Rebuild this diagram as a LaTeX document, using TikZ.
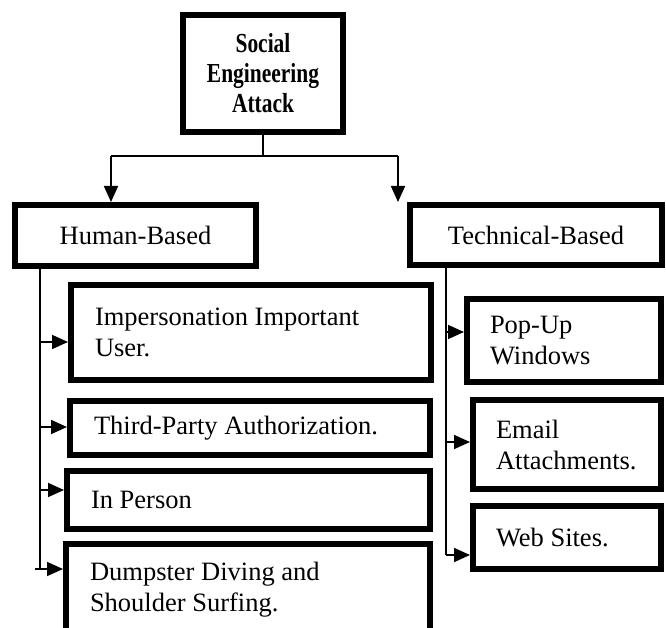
\documentclass[tikz,border=0pt]{standalone}
\usepackage{fontspec}
\setmainfont{Liberation Serif}
% condensed bold face for the root heading
\newfontfamily\headfont{Liberation Serif}[FakeStretch=0.78]
\usetikzlibrary{arrows.meta,calc}

\begin{document}
\begin{tikzpicture}[x=1pt,y=-1pt,
  box/.style={draw, line width=6pt, rectangle, inner xsep=24pt, inner ysep=0pt,
              align=flush left, font=\fontsize{26.5}{31}\selectfont},
  rbox/.style={box, inner xsep=23pt},
  cbox/.style={box, align=flush center},
  head/.style={cbox, font=\headfont\bfseries\fontsize{27.5}{30}\selectfont},
  link/.style={line width=1.7pt},
  arr/.style={link, -{Triangle[length=16pt 0,width=14pt 0]}}]
\useasboundingbox (0,0) rectangle (666,628);
\clip (0,0) rectangle (666,628);

% root and the two categories
\node[head, minimum width=148pt, minimum height=117pt] (root) at (263,73.5) {Social\\Engineering\\Attack};
\node[cbox, minimum width=241pt, minimum height=61pt] (hb) at (135.5,235.5) {Human-Based};
\node[cbox, minimum width=252pt, minimum height=60pt] (tb) at (536,235) {Technical-Based};

% human-based techniques
\node[box, text width=312pt, minimum height=95pt] (imp) at (251,332.5) {Impersonation Important\\User.};
\node[box, text width=312pt, minimum height=54pt] (tpa) at (250,428) {Third-Party Authorization.};
\node[box, text width=315pt, minimum height=58pt] (inp) at (248.5,500) {In Person};
\node[box, text width=316pt, minimum height=91pt, anchor=north] (dd) at (248,541) {Dumpster Diving and\\Shoulder Surfing.};

% technical-based techniques
\node[rbox, text width=148pt, minimum height=83pt] (pu) at (564,340.5) {Pop-Up\\Windows};
\node[rbox, text width=142pt, minimum height=89pt] (em) at (567,444.5) {Email\\Attachments.};
\node[rbox, text width=142pt, minimum height=63pt] (ws) at (567,537.5) {Web Sites.};

% root to categories
\coordinate (hl) at (111,156);
\coordinate (hr) at (398,156);
\draw[link] (root.south) -- (root.south |- hl);
\draw[link] (hl) -- (hr);
\draw[arr] (hl) -- (hl |- hb.north);
\draw[arr] (hr) -- (hr |- tb.north);

% left trunk
\coordinate (l1) at (40,342);
\coordinate (l2) at (40,427);
\coordinate (l3) at (40,490);
\coordinate (l4) at (40,569);
\coordinate (l4s) at (35,569);
\draw[link] (l1 |- hb.south) -- (l4);
\draw[arr] (l1) -- (l1 -| imp.west);
\draw[arr] (l2) -- (l2 -| tpa.west);
\draw[arr] (l3) -- (l3 -| inp.west);
\draw[arr] (l4s) -- (l4s -| dd.west);

% right trunk
\coordinate (r1) at (446,332);
\coordinate (r2) at (446,442);
\coordinate (r3) at (446,555);
\draw[link] (r1 |- tb.south) -- (r3);
\draw[arr] (r1) -- (r1 -| pu.west);
\draw[arr] (r2) -- (r2 -| em.west);
\draw[arr] (r3) -- (r3 -| ws.west);
\end{tikzpicture}
\end{document}
